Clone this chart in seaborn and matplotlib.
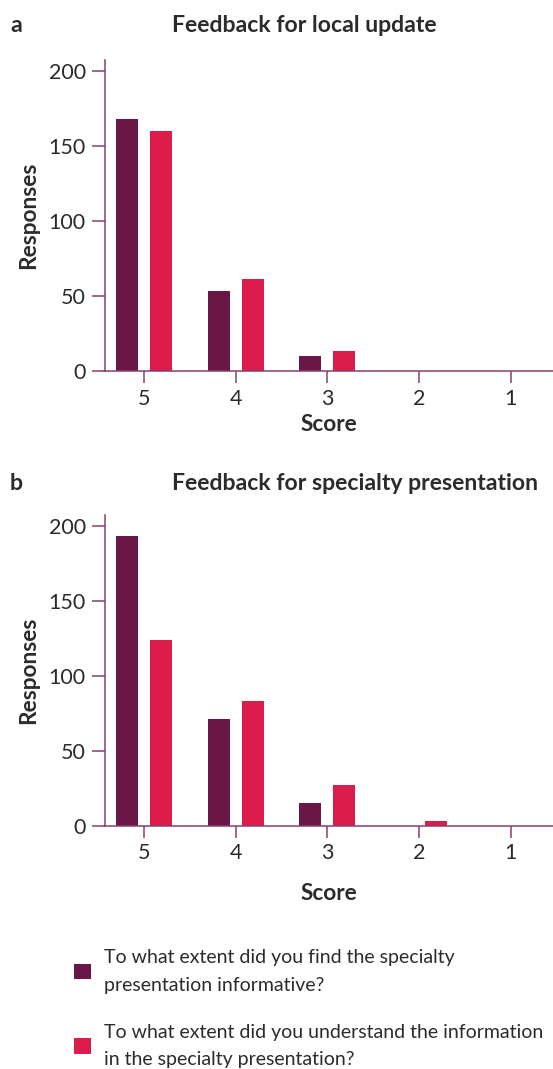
import matplotlib
matplotlib.use("Agg")
import matplotlib.pyplot as plt
import pandas as pd
import seaborn as sns
from matplotlib.patches import Patch

sns.set_theme(style="white")
plt.rcParams["font.family"] = ["Lato", "DejaVu Sans"]

DARK = "#6a1646"
PINK = "#dc1c4b"
AXIS = "#86406f"
TEXT = "#2b2b2b"

scores = ["5", "4", "3", "2", "1"]
series = [
    "To what extent did you find the specialty\npresentation informative?",
    "To what extent did you understand the information\nin the specialty presentation?",
]
# panel a: local update
local_informative = [168, 53, 10, 0, 0]
local_understand = [160, 61, 13, 0, 0]
# panel b: specialty presentation
spec_informative = [193, 71, 15, 0, 0]
spec_understand = [124, 83, 27, 3, 0]

panels = [
    ("a", "Feedback for local update", local_informative, local_understand),
    ("b", "Feedback for specialty presentation", spec_informative, spec_understand),
]


def make_df(first, second):
    rows = []
    for s, v in zip(scores, first):
        rows.append({"score": s, "series": series[0], "responses": v})
    for s, v in zip(scores, second):
        rows.append({"score": s, "series": series[1], "responses": v})
    return pd.DataFrame(rows)


W, H = 553, 1069
fig = plt.figure(figsize=(W / 100, H / 100), dpi=100)

# axes boxes in pixels: (left, top, bottom)
boxes = [(104.5, 60, 371), (104.5, 515, 825.7)]
title_y = [26, 484]
xlabel_pad = [4, 14]

for (tag, title, first, second), (l, t, b), ty, lp in zip(panels, boxes, title_y, xlabel_pad):
    ax = fig.add_axes([l / W, 1 - b / H, 1 - l / W, (b - t) / H])
    df = make_df(first, second)
    sns.barplot(data=df, x="score", y="responses", hue="series", order=scores,
                hue_order=series, palette=[DARK, PINK], saturation=1, width=0.74,
                gap=0.353, linewidth=0, legend=False, ax=ax)
    ax.set_xlim(-0.43, 4.46)
    ax.set_ylim(0, 207)
    ax.set_yticks([0, 50, 100, 150, 200])
    for side in ["top", "right"]:
        ax.spines[side].set_visible(False)
    for side in ["left", "bottom"]:
        ax.spines[side].set_color(AXIS)
        ax.spines[side].set_linewidth(1.1)
    ax.tick_params(axis="y", direction="out", length=9.4, width=1.1, color=AXIS,
                   labelsize=15.5, labelcolor=TEXT, pad=4, left=True)
    ax.tick_params(axis="x", direction="out", length=8.6, width=1.1, color=AXIS,
                   labelsize=15.5, labelcolor=TEXT, pad=4, bottom=True)
    ax.set_xlabel("Score", fontsize=16.3, fontweight="bold", color=TEXT, labelpad=lp)
    ax.set_ylabel("Responses", fontsize=16.3, fontweight="bold", color=TEXT, labelpad=7)
    ax.grid(False)

    fig.text(10 / W, 1 - ty / H, tag, fontsize=16.6, fontweight="bold", color=TEXT,
             ha="left", va="center")
    fig.text(172 / W, 1 - ty / H, title, fontsize=16.6, fontweight="bold", color=TEXT,
             ha="left", va="center")

handles = [Patch(facecolor=DARK, edgecolor="none"), Patch(facecolor=PINK, edgecolor="none")]
leg = fig.legend(handles, series, loc="upper left", bbox_to_anchor=(74 / W, 1 - 949 / H),
                 frameon=False, fontsize=14, handlelength=0.88, handleheight=0.88,
                 handletextpad=0.67, labelspacing=1.55, borderpad=0, borderaxespad=0)
for txt in leg.get_texts():
    txt.set_color(TEXT)
    txt.set_linespacing(1.75)

fig.savefig("out.png", dpi=100)
